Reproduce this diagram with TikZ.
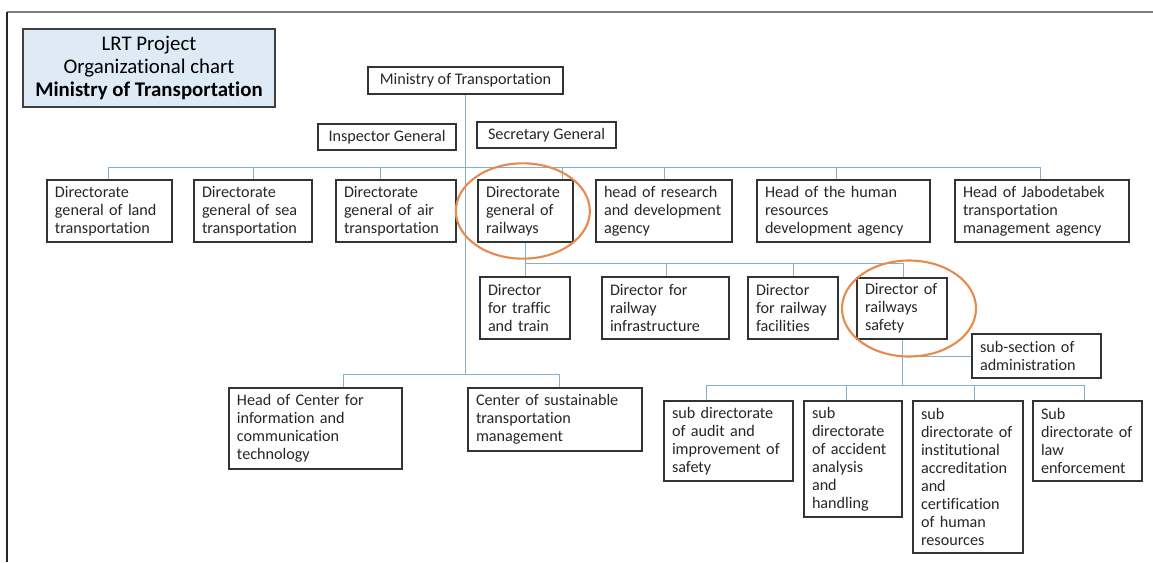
\documentclass[tikz,border=0pt]{standalone}
\usepackage{fontspec}
\setmainfont{Carlito}[Ligatures=NoCommon]
\definecolor{linkc}{RGB}{135,175,198}
\definecolor{ringc}{RGB}{230,138,78}
\definecolor{titlec}{RGB}{222,235,247}
\tikzset{
	orgbox/.style={draw=black!80, line width=0.9pt, text=black!85, inner xsep=0.24cm, inner ysep=0pt,
		font=\fontsize{13.8}{15.3}\selectfont, align=left},
	wh/.style n args={3}{minimum width=#1cm, minimum height=#2cm, text width=#3cm},
	link/.style={draw=linkc, line width=0.6pt},
	ring/.style={draw=ringc, line width=1.8pt}
}
\begin{document}
\begin{tikzpicture}[x=0.03cm,y=-0.03cm]%chart
	\useasboundingbox (0,0) rectangle (1153,562);
	\draw[black!50, line width=1.2pt] (7,12) -- (1153,12);
	\draw[black!85, line width=1.5pt] (7,12) -- (7,562);
	\path
	(0,167) coordinate (busA)
	(0,263) coordinate (busB)
	(0,374) coordinate (busC)
	(0,385) coordinate (busD);
	\node[orgbox, fill=titlec, text=black, draw=black!75, line width=1.1pt, align=center, minimum width=7.56cm, minimum height=2.34cm,
		font=\fontsize{17.8}{19.6}\selectfont] (title) at (149,68)
		{LRT Project\\Organizational chart\\\textbf{Ministry of Transportation}};
	\node[orgbox, minimum width=5.85cm, minimum height=0.81cm] (mot) at (465.5,80.5) {Ministry of Transportation};
	\node[orgbox, minimum width=4.14cm, minimum height=0.78cm] (ig) at (387,137) {Inspector General};
	\node[orgbox, minimum width=4.17cm, minimum height=0.78cm] (sg) at (546.5,135) {Secretary General};
	% first row
	\node[orgbox, wh={3.75}{1.86}{3.27}] (dland) at (109.5,211) {Directorate\\general of land\\transportation};
	\node[orgbox, wh={3.54}{1.86}{3.06}] (dsea) at (253,211) {Directorate\\general of sea\\transportation};
	\node[orgbox, wh={3.6}{1.86}{3.12}] (dair) at (396,211) {Directorate\\general of air\\transportation};
	\node[orgbox, wh={2.85}{1.86}{2.37}] (drail) at (525.5,211) {Directorate\\general of\\railways};
	\node[orgbox, wh={4.08}{1.86}{3.6}] (rnd) at (664,211) {head of research\\and development\\agency};
	\node[orgbox, wh={5.19}{1.86}{4.71}] (hr) at (843.5,211) {Head of the human\\resources\\development agency};
	\node[orgbox, wh={5.22}{1.86}{4.74}] (jabo) at (1042,211) {Head of Jabodetabek\\transportation\\management agency};
	% railways
	\node[orgbox, wh={2.7}{1.86}{2.22}] (traffic) at (525,308) {Director\\for traffic\\and train};
	\node[orgbox, wh={3.81}{1.86}{3.33}] (infra) at (665.5,308) {Director for\\railway\\infrastructure};
	\node[orgbox, wh={2.7}{1.86}{2.22}] (facil) at (793,308) {Director\\for railway\\facilities};
	\node[orgbox, wh={2.7}{1.83}{2.22}] (safety) at (902,308.5) {Director of\\railways\\safety};
	\node[orgbox, wh={3.87}{1.32}{3.39}] (admin) at (1036.5,356) {sub-section of\\administration};
	% centers
	\node[orgbox, wh={5.19}{2.43}{4.71}] (ict) at (315.5,428.5) {Head of Center for\\information and\\communication\\technology};
	\node[orgbox, wh={5.22}{1.89}{4.74}] (center) at (555,419.5) {Center of sustainable\\transportation\\management};
	% safety
	\node[orgbox, wh={3.87}{2.4}{3.39}] (audit) at (728.5,441) {sub directorate\\of audit and\\improvement of\\safety};
	\node[orgbox, wh={2.94}{3.48}{2.46}] (accident) at (853,459) {sub\\directorate\\of accident\\analysis\\and\\handling};
	\node[orgbox, wh={3.3}{4.56}{2.82}] (inst) at (968,477) {sub\\directorate of\\institutional\\accreditation\\and\\certification\\of human\\resources};
	\node[orgbox, wh={3.27}{2.4}{2.79}] (law) at (1087.5,441) {Sub\\directorate of\\law\\enforcement};
	\foreach \p/\q/\b in {dland/108/busA,dsea/253/busA,dair/380/busA,drail/562/busA,rnd/664/busA,hr/836/busA,jabo/1040/busA,
		traffic/525/busB,infra/666/busB,facil/793/busB,safety/903/busB,ict/343/busC,center/559/busC,
		audit/706/busD,accident/846/busD,inst/974/busD,law/1084/busD}
	\draw[link] (\p.north -| \q,0) -- (\b -| \q,0) coordinate (k\p);
	\draw[link] (kdland) -- (kjabo) (kict) -- (kcenter) (kaudit) -- (klaw);
	\draw[link] (mot.south) -- (mot.south |- busC);
	\draw[link] (drail.south) |- (ksafety);
	\draw[link] (safety.south) -- (safety.south |- busD);
	\draw[link] (admin.west) -- (admin.west -| safety.south);
	\draw[ring] ([xshift=-0.08cm]drail.center) ellipse [x radius=2.01cm, y radius=1.43cm];
	\draw[ring] ([xshift=0.21cm]safety.center) ellipse [x radius=2.01cm, y radius=1.44cm];
\end{tikzpicture}
\end{document}
